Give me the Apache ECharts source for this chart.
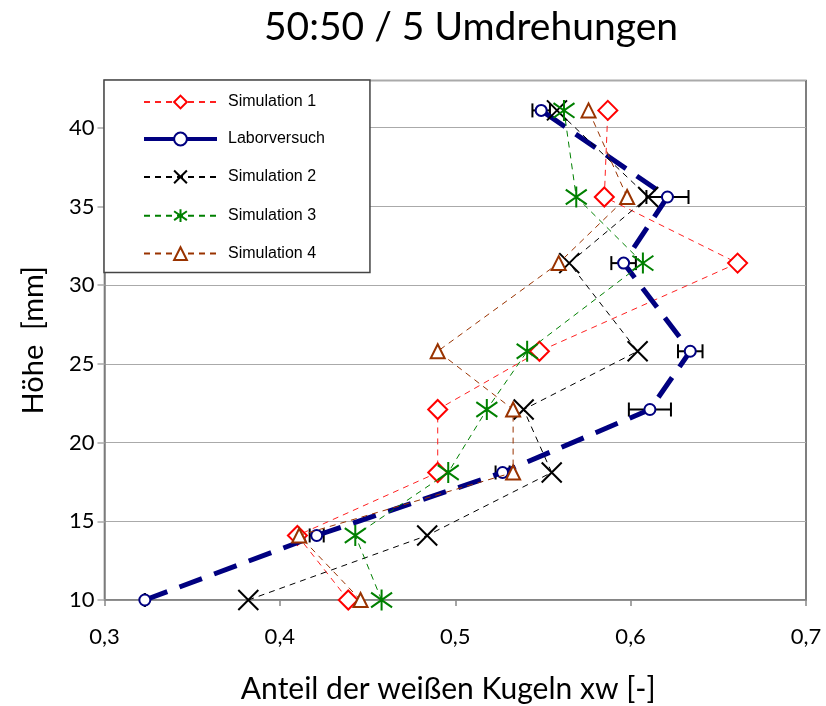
<!DOCTYPE html>
<html>
<head>
<meta charset="utf-8">
<script src="https://cdn.jsdelivr.net/npm/echarts@6/dist/echarts.min.js"></script>
<style>
  html, body { margin: 0; padding: 0; background: #fff; }
  #chart { width: 826px; height: 706px; }
</style>
</head>
<body>
<div id="chart"></div>
<script>
// Heights of the measuring slices [mm]
const heights = [10, 14.1, 18.1, 22.1, 25.8, 31.4, 35.6, 41.1];

// Share of white balls xw per height
const sim1 = [0.439, 0.410, 0.490, 0.490, 0.548, 0.661, 0.585, 0.587];
const labor = [0.323, 0.421, 0.527, 0.611, 0.634, 0.596, 0.621, 0.549];
const laborErr = [0, 0.004, 0.004, 0.012, 0.007, 0.007, 0.012, 0.005];
const sim2 = [0.382, 0.484, 0.555, 0.539, 0.604, 0.565, 0.610, 0.558];
const sim3 = [0.458, 0.443, 0.496, 0.518, 0.541, 0.607, 0.569, 0.562];
const sim4 = [0.446, 0.411, 0.533, 0.533, 0.490, 0.559, 0.598, 0.576];

const xTicks = [0.3, 0.4, 0.5, 0.6, 0.7];
const yTicks = [10, 15, 20, 25, 30, 35, 40];

const pairs = (xs) => xs.map((x, i) => [x, heights[i]]);

const CROSS = 'path://M0,0L10,10M10,0L0,10';
const STAR = 'path://M5,0L5,10M0,1.5L10,8.5M10,1.5L0,8.5';

const thinDash = [6, 5];

const chart = echarts.init(document.getElementById('chart'), null, { renderer: 'canvas' });

const option = {
  backgroundColor: '#ffffff',
  animation: false,
  textStyle: { fontFamily: 'Lato' },
  title: {
    text: '50:50 / 5 Umdrehungen',
    left: 259,
    top: 3,
    textStyle: { fontFamily: 'Lato', fontSize: 39, fontWeight: 'normal', color: '#000' }
  },
  grid: {
    left: 104.5, right: 20, top: 80.5, bottom: 106,
    outerBoundsMode: 'none',
    show: true, borderColor: '#555', borderWidth: 1.5, backgroundColor: 'transparent'
  },
  legend: {
    orient: 'vertical',
    left: 104, top: 80,
    itemWidth: 73, itemHeight: 16, itemGap: 21,
    padding: [14, 45, 11, 38],
    backgroundColor: '#fff',
    borderColor: '#444', borderWidth: 1.5, borderRadius: 0,
    textStyle: { fontFamily: 'Liberation Sans', fontSize: 16, color: '#000', padding: [0, 0, 0, 6] },
    data: [
      { name: 'Simulation 1' },
      { name: 'Laborversuch', lineStyle: { type: 'solid', width: 4, color: '#000080' } },
      { name: 'Simulation 2' },
      { name: 'Simulation 3' },
      { name: 'Simulation 4' }
    ],
    z: 10
  },
  xAxis: {
    type: 'value', min: xTicks[0], max: xTicks[xTicks.length - 1], interval: 0.1,
    name: 'Anteil der weißen Kugeln xw [-]',
    nameLocation: 'middle', nameGap: 74,
    nameTextStyle: { fontFamily: 'Lato', fontSize: 30, color: '#000', padding: [0, 14, 0, 0] },
    axisLine: { show: true, onZero: false, lineStyle: { color: '#888', width: 1.5 } },
    axisTick: { show: true, inside: false, length: 6, lineStyle: { color: '#888', width: 1.5 } },
    axisLabel: {
      margin: 26, fontFamily: 'Lato', fontSize: 22, color: '#000',
      formatter: (v) => v.toFixed(1).replace('.', ',')
    },
    splitLine: { show: false }
  },
  yAxis: {
    type: 'value', min: yTicks[0], max: 43, interval: 5,
    name: 'Höhe  [mm]',
    nameLocation: 'middle', nameGap: 56,
    nameTextStyle: { fontFamily: 'Lato', fontSize: 29, color: '#000' },
    axisLine: { show: true, lineStyle: { color: '#888', width: 1.5 } },
    axisTick: { show: true, inside: false, length: 7, lineStyle: { color: '#aaa', width: 1.5 } },
    axisLabel: {
      margin: 10, fontFamily: 'Lato', fontSize: 22, color: '#000', showMaxLabel: false,
      formatter: (v) => (yTicks.indexOf(v) >= 0 ? String(v) : '')
    },
    splitLine: { show: true, lineStyle: { color: '#aaa', width: 1.2 } }
  },
  series: [
    {
      name: 'Simulation 1', type: 'line', data: pairs(sim1),
      symbol: 'diamond', symbolSize: 19,
      lineStyle: { color: '#ff2020', width: 1, type: thinDash },
      itemStyle: { color: '#fff', borderColor: '#ff0000', borderWidth: 2 },
      z: 3
    },
    {
      // horizontal error bars of the lab test
      name: 'Fehler', type: 'custom',
      data: labor.map((x, i) => [x, heights[i], laborErr[i]]),
      renderItem: (params, api) => {
        const x = api.value(0), y = api.value(1), e = api.value(2);
        const a = api.coord([x - e, y]);
        const b = api.coord([x + e, y]);
        const h = 7;
        const st = { stroke: '#000', lineWidth: 2 };
        return {
          type: 'group',
          children: [
            { type: 'line', shape: { x1: a[0], y1: a[1], x2: b[0], y2: b[1] }, style: st },
            { type: 'line', shape: { x1: a[0], y1: a[1] - h, x2: a[0], y2: a[1] + h }, style: st },
            { type: 'line', shape: { x1: b[0], y1: b[1] - h, x2: b[0], y2: b[1] + h }, style: st }
          ]
        };
      },
      z: 4
    },
    {
      name: 'Laborversuch', type: 'line', data: pairs(labor),
      symbol: 'circle', symbolSize: 11,
      lineStyle: { color: '#000080', width: 5, type: [24, 13] },
      itemStyle: { color: '#fff', borderColor: '#000080', borderWidth: 2 },
      z: 5
    },
    {
      name: 'Simulation 2', type: 'line', data: pairs(sim2),
      symbol: CROSS, symbolSize: 20,
      lineStyle: { color: '#000', width: 1, type: thinDash },
      itemStyle: { color: 'none', borderColor: '#000', borderWidth: 2 },
      z: 6
    },
    {
      name: 'Simulation 3', type: 'line', data: pairs(sim3),
      symbol: STAR, symbolSize: 21,
      lineStyle: { color: '#008000', width: 1, type: thinDash },
      itemStyle: { color: 'none', borderColor: '#008000', borderWidth: 2 },
      z: 7
    },
    {
      name: 'Simulation 4', type: 'line', data: pairs(sim4),
      symbol: 'triangle', symbolSize: 14,
      lineStyle: { color: '#993300', width: 1, type: thinDash },
      itemStyle: { color: '#fff', borderColor: '#993300', borderWidth: 2 },
      z: 8
    }
  ]
};

chart.setOption(option);
</script>
</body>
</html>
